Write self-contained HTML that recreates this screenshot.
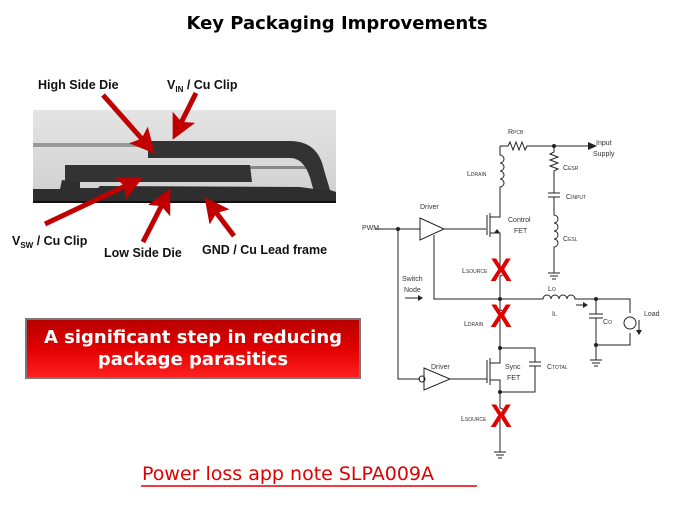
<!DOCTYPE html>
<html><head><meta charset="utf-8"><style>
body{margin:0;background:#fff;}
svg{display:block;font-family:"Liberation Sans",sans-serif;}
</style></head><body>
<svg width="674" height="506" viewBox="0 0 674 506" xmlns="http://www.w3.org/2000/svg">
<defs>
<marker id="ah" viewBox="0 0 10 10" refX="7" refY="5" markerWidth="5" markerHeight="5" orient="auto"><path d="M0,0 L10,5 L0,10 L2,5 z" fill="#c00000"/></marker>
<linearGradient id="pkg" x1="0" y1="0" x2="0" y2="1"><stop offset="0" stop-color="#e4e4e4"/><stop offset="1" stop-color="#cfcfcf"/></linearGradient>
<linearGradient id="rb" x1="0" y1="0" x2="0" y2="1"><stop offset="0" stop-color="#b80000"/><stop offset="0.5" stop-color="#e00000"/><stop offset="1" stop-color="#ff2020"/></linearGradient>
</defs>
<text x="337" y="29" text-anchor="middle" font-size="18" font-weight="bold" font-family="DejaVu Sans, sans-serif">Key Packaging Improvements</text>

<rect x="33" y="110" width="303" height="93" fill="url(#pkg)"/>
<rect x="33" y="143" width="118" height="4" fill="#999"/>
<rect x="250" y="166" width="72" height="3" fill="#888"/>
<path d="M148,141 L290,141 Q318,141 324,170 L330,190 L336,192 L336,203 L318,203 L312,185 Q306,158 290,158 L148,158 Z" fill="#333"/>
<path d="M65,165 L250,165 L252,182 L80,182 L80,188 L65,188 Z" fill="#333"/>
<path d="M33,189 L60,189 L62,180 L80,182 L80,188 L98,188 L100,186 L300,187 L336,192 L336,203 L33,203 Z" fill="#2e2e2e"/>
<rect x="33" y="201" width="303" height="2" fill="#111"/>

<g fill="none" stroke="#c00000" stroke-width="5" marker-end="url(#ah)">
<line x1="103" y1="95" x2="150" y2="148"/>
<line x1="196" y1="93" x2="176" y2="133"/>
<line x1="45" y1="224" x2="136" y2="181"/>
<line x1="143" y1="242" x2="167" y2="195"/>
<line x1="234" y1="236" x2="209" y2="203"/>
</g>
<g font-size="12.5" font-weight="bold" fill="#111">
<text x="38" y="89">High Side Die</text>
<text x="167" y="89">V<tspan font-size="8" dy="3">IN</tspan><tspan dy="-3"> / Cu Clip</tspan></text>
<text x="12" y="245">V<tspan font-size="8" dy="3">SW</tspan><tspan dy="-3"> / Cu Clip</tspan></text>
<text x="104" y="257">Low Side Die</text>
<text x="202" y="254">GND / Cu Lead frame</text>
</g>

<rect x="25" y="318" width="336" height="61" fill="#777"/>
<rect x="27" y="320" width="332" height="57" fill="url(#rb)"/>
<g font-size="18" font-weight="bold" fill="#fff" text-anchor="middle" font-family="DejaVu Sans, sans-serif">
<text x="193" y="343">A significant step in reducing</text>
<text x="193" y="365">package parasitics</text>
</g>

<text x="142" y="480" font-size="19" fill="#e00000" font-family="DejaVu Sans, sans-serif">Power loss app note SLPA009A</text>
<line x1="141" y1="486" x2="477" y2="486" stroke="#e00000" stroke-width="1.5"/>

<g stroke="#222" stroke-width="1" fill="none">
<path d="M500,146 L508,146 l2,-4 l3,8 l3,-8 l3,8 l3,-8 l3,8 l2,-4 L588,146"/>
<path d="M500,146 L500,155 a4,4 0 0 1 0,8 a4,4 0 0 1 0,8 a4,4 0 0 1 0,8 a4,4 0 0 1 0,8 L500,210"/>
<path d="M554,146 L554,152 l-4,2 l8,3 l-8,3 l8,3 l-8,3 l8,3 l-4,2 L554,193 M548,193 L560,193 M548,197 L560,197 M554,197 L554,215 a4,4 0 0 1 0,8 a4,4 0 0 1 0,8 a4,4 0 0 1 0,8 a4,4 0 0 1 0,8 L554,273 M548,273 L560,273 M550,276 L558,276 M552,279 L556,279"/>
<path d="M375,229 L420,229 M420,218 L444,229 L420,240 Z M444,229 L486,229 M487,215 L487,235 M490,213 L490,237 M490,217 L500,217 L500,210 M490,233 L500,233 L500,255"/>
<path d="M434,235 L434,299 L543,299 a4,4 0 0 1 8,0 a4,4 0 0 1 8,0 a4,4 0 0 1 8,0 a4,4 0 0 1 8,0 L630,299 L630,313 M630,333 L630,345 L596,345 M596,299 L596,314 M589,314 L603,314 M589,318 L603,318 M596,318 L596,360 M590,360 L602,360 M592,363 L600,363 M594,366 L598,366"/>
<circle cx="630" cy="323" r="6"/>
<path d="M500,255 L500,268 a4,4 0 0 1 0,8 L500,299 L500,310 a4,4 0 0 1 0,8 L500,348 L535,348 L535,362 M529,362 L541,362 M529,366 L541,366 M535,366 L535,392 L500,392 M500,348 L500,363 L490,363 M490,358 L490,385 M487,360 L487,383 M490,380 L500,380 L500,392 L500,408 a4,4 0 0 1 0,8 L500,452 M494,452 L506,452 M496,455 L504,455 M498,458 L502,458"/>
<path d="M398,229 L398,379 L420,379 M424,368 L450,379 L424,390 Z M450,379 L487,379"/>
<circle cx="422" cy="379" r="3"/>
<path d="M405,298 L418,298 M576,305 L583,305"/>
<path d="M639,320 L639,331"/>
</g>
<g fill="#222">
<circle cx="554" cy="146" r="2"/><circle cx="398" cy="229" r="2"/><circle cx="500" cy="299" r="2"/><circle cx="596" cy="299" r="2"/><circle cx="596" cy="345" r="2"/><circle cx="500" cy="348" r="2"/><circle cx="500" cy="392" r="2"/>
<path d="M588,142 L597,146 L588,150 Z"/><path d="M418,295 L423,298 L418,301 Z"/><path d="M583,302 L588,305 L583,308 Z"/><path d="M636,330 L639,335 L642,330 Z"/>
<path d="M497,229 L500,233 L494,233 Z"/>
</g>
<g font-size="7" fill="#333">
<text x="508" y="134">R<tspan font-size="5">PCB</tspan></text>
<text x="596" y="145">Input</text><text x="593" y="156">Supply</text>
<text x="563" y="170">C<tspan font-size="5">ESR</tspan></text>
<text x="566" y="199">C<tspan font-size="5">INPUT</tspan></text>
<text x="563" y="241">C<tspan font-size="5">ESL</tspan></text>
<text x="467" y="176">L<tspan font-size="5">DRAIN</tspan></text>
<text x="420" y="209">Driver</text>
<text x="508" y="222">Control</text><text x="514" y="233">FET</text>
<text x="362" y="230">PWM</text>
<text x="402" y="281">Switch</text><text x="404" y="292">Node</text>
<text x="462" y="273">L<tspan font-size="5">SOURCE</tspan></text>
<text x="464" y="326">L<tspan font-size="5">DRAIN</tspan></text>
<text x="548" y="291">L<tspan font-size="5">O</tspan></text>
<text x="552" y="316">I<tspan font-size="5">L</tspan></text>
<text x="603" y="324">C<tspan font-size="5">O</tspan></text>
<text x="644" y="316">Load</text>
<text x="431" y="369">Driver</text>
<text x="505" y="369">Sync</text><text x="507" y="380">FET</text>
<text x="547" y="369">C<tspan font-size="5">TOTAL</tspan></text>
<text x="461" y="421">L<tspan font-size="5">SOURCE</tspan></text>
</g>
<g font-size="32" font-weight="bold" fill="#e00000" text-anchor="middle">
<text x="501" y="281">X</text><text x="501" y="327">X</text><text x="501" y="427">X</text>
</g>
</svg>
</body></html>
